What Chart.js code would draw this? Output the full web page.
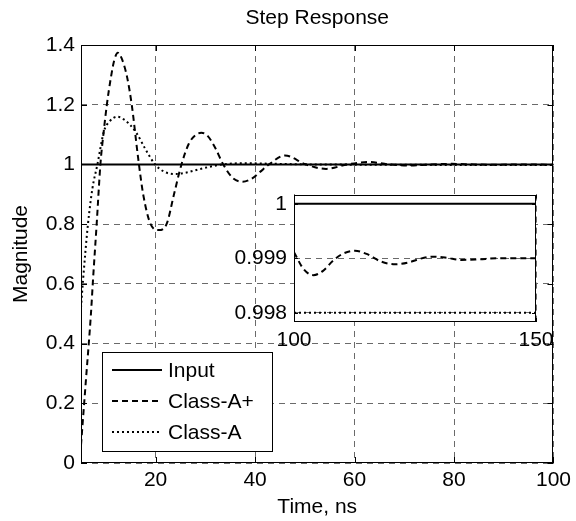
<!DOCTYPE html>
<html>
<head>
<meta charset="utf-8">
<script src="https://cdn.jsdelivr.net/npm/chart.js@4.4.0/dist/chart.umd.min.js"></script>
<style>
  html, body { margin: 0; padding: 0; background: #fff; }
  #wrap { position: relative; width: 576px; height: 521px; }
  #main { position: absolute; left: 0; top: 0; }
  #inset { position: absolute; left: 230px; top: 175px; }
</style>
</head>
<body>
<div id="wrap">
  <canvas id="main" width="576" height="521"></canvas>
  <canvas id="inset" width="330" height="180"></canvas>
</div>
<script>
// series names
const seriesNames = ['Input', 'Class-A+', 'Class-A'];

// main view, 5..100 ns
const inputTime = [5, 100];
const inputValues = [1, 1];

const classAPlusTime = [5, 6, 7, 7.4, 8.15, 8.9, 9.5, 10.2, 11, 11.7, 12.4, 13.3, 14.3, 15.2, 16.5,
  17.5, 19, 20.6, 22.2, 23.7, 25.2, 26.7, 28, 29.2, 30.5, 32, 33.6, 35.5, 37.5, 39.3,
  41, 42.8, 46, 50.2, 54.3, 58.5, 62.8, 67, 71, 75.3, 79.6, 84, 88, 94, 100];
const classAPlusValues = [0.06, 0.28, 0.5, 0.61, 0.8, 1.0, 1.1, 1.2, 1.29, 1.35, 1.374, 1.35, 1.29, 1.2, 1.02,
  0.9, 0.8, 0.78, 0.8, 0.9, 1.0, 1.07, 1.098, 1.106, 1.095, 1.055, 1.0, 0.955, 0.942, 0.952,
  0.975, 1.0, 1.03, 1.0, 0.985, 1.0, 1.008, 1.0, 0.996, 1.0, 1.002, 1.0, 0.999, 1.0, 0.999];

const classATime = [5, 5.4, 6.4, 7.3, 8.3, 9.6, 10.8, 12.3, 13.7, 15, 16.2, 18, 19.9, 21.8, 23.9,
  26, 29, 33.5, 38, 44, 52, 100];
const classAValues = [0.52, 0.61, 0.8, 0.92, 1.0, 1.11, 1.145, 1.16, 1.15, 1.13, 1.104, 1.05, 1.0, 0.975, 0.968,
  0.972, 0.985, 1.0, 1.004, 1.002, 1.0, 0.998];

const xTicks = [20, 40, 60, 80, 100];
const xTickLabels = ['20', '40', '60', '80', '100'];
const yTicks = [0, 0.2, 0.4, 0.6, 0.8, 1, 1.2, 1.4];
const yTickLabels = ['0', '0.2', '0.4', '0.6', '0.8', '1', '1.2', '1.4'];

// inset view, 100..150 ns
const insetInputTime = [100, 150];
const insetInputValues = [1, 1];
const insetClassAPlusTime = [100, 102, 104, 106, 108, 110, 112.6, 115, 118, 120.9,
  123.5, 126, 128.7, 131.5, 134.6, 138, 142, 146, 150];
const insetClassAPlusValues = [0.99911, 0.99880, 0.99869, 0.99877, 0.99895, 0.99908, 0.99914, 0.99908, 0.99894, 0.99889,
  0.99892, 0.99899, 0.99903, 0.99901, 0.99897, 0.99898, 0.99900, 0.99900, 0.99900];
const insetClassATime = [100, 150];
const insetClassAValues = [0.998, 0.998];

const insetXTicks = [100, 150];
const insetXTickLabels = ['100', '150'];
const insetYTicks = [0.998, 0.999, 1];
const insetYTickLabels = ['0.998', '0.999', '1'];

const FONT = '"Liberation Sans", Arial, sans-serif';
const FS = 21;
const GRID = '#6a6a6a';

function pts(xs, ys) {
  return xs.map((x, i) => ({ x: x, y: ys[i] }));
}

function makeSets(inT, inV, apT, apV, aT, aV) {
  const common = { pointRadius: 0, borderColor: '#000', borderWidth: 2, fill: false, cubicInterpolationMode: 'monotone' };
  return [
    { ...common, label: seriesNames[0], data: pts(inT, inV), borderDash: [] },
    { ...common, label: seriesNames[1], data: pts(apT, apV), borderDash: [6, 4] },
    { ...common, label: seriesNames[2], data: pts(aT, aV), borderDash: [2, 3] }
  ];
}

// white plot background, black box and inward tick marks, like MATLAB axes
const boxPlugin = {
  id: 'matlabBox',
  beforeDraw(chart, args, opts) {
    if (!opts.fill) return;
    const a = chart.chartArea;
    chart.ctx.save();
    chart.ctx.fillStyle = opts.fill;
    chart.ctx.fillRect(a.left, a.top, a.width, a.height);
    chart.ctx.restore();
  },
  afterDatasetsDraw(chart, args, opts) {
    const { ctx, chartArea: a, scales } = chart;
    const t = opts.tick || 5;
    ctx.save();
    ctx.strokeStyle = '#000';
    ctx.lineWidth = 1;
    ctx.setLineDash([]);
    ctx.beginPath();
    scales.x.ticks.forEach(tk => {
      const px = Math.round(scales.x.getPixelForValue(tk.value)) + 0.5;
      ctx.moveTo(px, a.bottom); ctx.lineTo(px, a.bottom - t);
      ctx.moveTo(px, a.top); ctx.lineTo(px, a.top + t);
    });
    scales.y.ticks.forEach(tk => {
      const py = Math.round(scales.y.getPixelForValue(tk.value)) + 0.5;
      ctx.moveTo(a.left, py); ctx.lineTo(a.left + t, py);
      ctx.moveTo(a.right, py); ctx.lineTo(a.right - t, py);
    });
    ctx.stroke();
    ctx.strokeRect(Math.round(a.left) + 0.5, Math.round(a.top) + 0.5,
      Math.round(a.width) - 1, Math.round(a.height) - 1);
    ctx.restore();
  }
};

// boxed legend in the lower left of the main axes
const legendPlugin = {
  id: 'insideLegend',
  afterDraw(chart) {
    const ctx = chart.ctx;
    const L = 102, T = 352, W = 170, H = 99;
    ctx.save();
    ctx.fillStyle = '#fff';
    ctx.fillRect(L, T, W, H);
    ctx.strokeStyle = '#000';
    ctx.lineWidth = 1;
    ctx.setLineDash([]);
    ctx.strokeRect(L + 0.5, T + 0.5, W, H);
    ctx.font = FS + 'px ' + FONT;
    ctx.textBaseline = 'middle';
    ctx.fillStyle = '#000';
    chart.data.datasets.forEach((ds, i) => {
      const y = T + 18 + i * 31;
      ctx.setLineDash(ds.borderDash || []);
      ctx.lineWidth = ds.borderWidth;
      ctx.beginPath();
      ctx.moveTo(L + 10, y);
      ctx.lineTo(L + 60, y);
      ctx.stroke();
      ctx.setLineDash([]);
      ctx.fillText(ds.label, L + 66, y + 1);
    });
    ctx.restore();
  }
};

function axis(min, max, ticks, labels, pad, fitFn, title) {
  return {
    type: 'linear',
    min: min,
    max: max,
    afterBuildTicks: (s) => { s.ticks = ticks.map(v => ({ value: v })); },
    afterFit: fitFn,
    ticks: {
      autoSkip: false, maxRotation: 0, padding: pad, color: '#000',
      font: { family: FONT, size: FS },
      callback: (v, i) => labels[i]
    },
    grid: { color: GRID, lineWidth: 1, drawTicks: false },
    border: { display: false, dash: [6, 5] },
    title: title || { display: false }
  };
}

new Chart(document.getElementById('main'), {
  type: 'line',
  data: { datasets: makeSets(inputTime, inputValues, classAPlusTime, classAPlusValues, classATime, classAValues) },
  options: {
    responsive: false,
    animation: false,
    layout: { padding: { left: 0, right: 22, top: 0, bottom: 0 } },
    scales: {
      x: axis(5, 100, xTicks, xTickLabels, 5, (s) => { s.height = 58; },
        { display: true, text: 'Time, ns', color: '#000', font: { family: FONT, size: FS }, padding: { top: 0, bottom: 1 } }),
      y: axis(0, 1.4, yTicks, yTickLabels, 6, (s) => { s.width = 81; },
        { display: true, text: 'Magnitude', color: '#000', font: { family: FONT, size: FS }, padding: { top: 9, bottom: 0 } }),
      // top axis only carries the title so it is centred over the plot box
      top: {
        type: 'linear', axis: 'x', position: 'top',
        ticks: { display: false },
        grid: { display: false },
        border: { display: false },
        afterFit: (s) => { s.height = 45; },
        title: { display: true, text: 'Step Response', color: '#000', font: { family: FONT, size: FS }, padding: { top: 6, bottom: 0 } }
      }
    },
    plugins: {
      legend: { display: false },
      tooltip: { enabled: false },
      title: { display: false },
      matlabBox: { tick: 6, fill: '#fff' }
    }
  },
  plugins: [boxPlugin, legendPlugin]
});

new Chart(document.getElementById('inset'), {
  type: 'line',
  data: { datasets: makeSets(insetInputTime, insetInputValues, insetClassAPlusTime, insetClassAPlusValues, insetClassATime, insetClassAValues) },
  options: {
    responsive: false,
    animation: false,
    layout: { padding: { left: 0, right: 24, top: 8, bottom: 0 } },
    scales: {
      x: axis(100, 150, insetXTicks, insetXTickLabels, 6, (s) => { s.height = 33; }),
      y: axis(0.997832, 1.000168, insetYTicks, insetYTickLabels, 7, (s) => { s.width = 64; })
    },
    plugins: {
      legend: { display: false },
      tooltip: { enabled: false },
      title: { display: false },
      matlabBox: { tick: 4, fill: '#fff' }
    }
  },
  plugins: [boxPlugin]
});
</script>
</body>
</html>
